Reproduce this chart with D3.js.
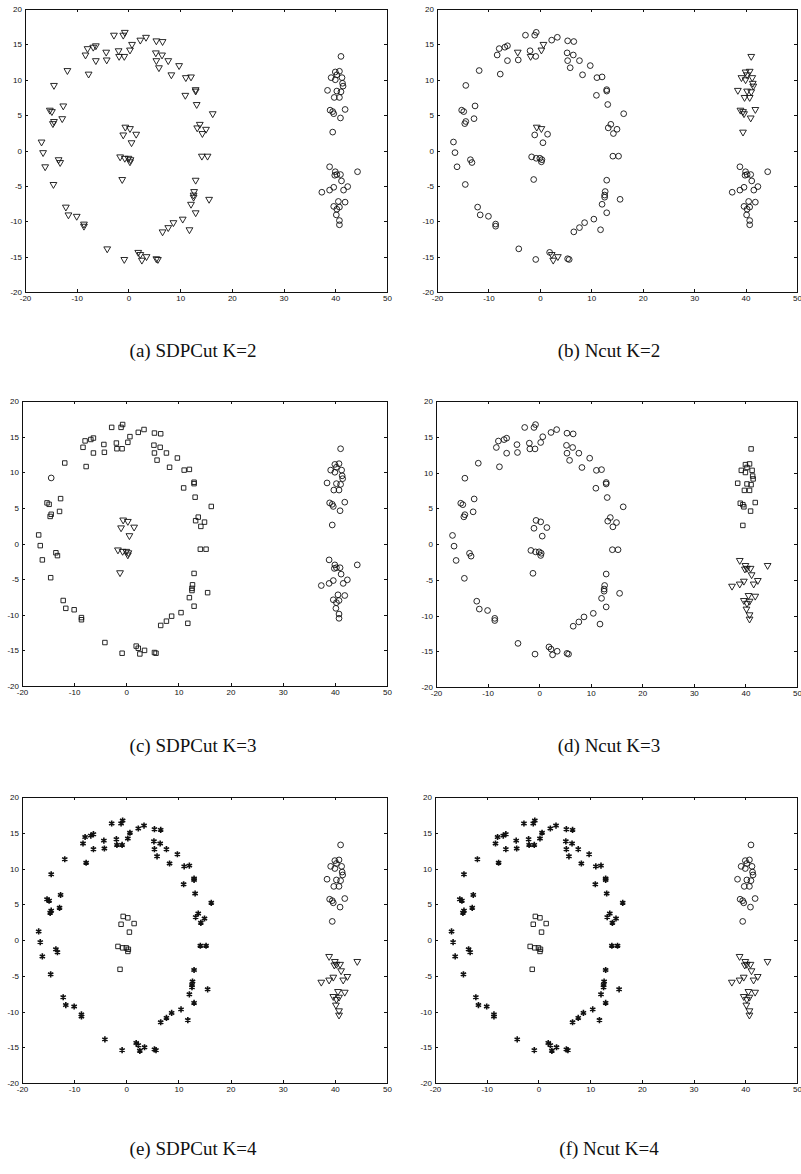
<!DOCTYPE html>
<meta charset="utf-8">
<script src="https://d3js.org/d3.v7.min.js"></script>
<style>
body { margin: 0; background: #fff; }
</style>
<body>
<script>

// outer ring
var ringX = [-16.8,-16.5,-16.1,-14.5,-13.5,-13.2,-12.1,-11.6,-10.0,-8.6,
             -8.6,-4.1,-0.8,1.9,2.3,2.6,3.5,5.4,5.7,6.6,
             7.7,8.7,10.5,11.8,12.1,12.6,12.6,12.7,13.0,13.0,
             15.6,14.2,15.3,13.3,13.8,14.3,15.0,16.3,13.2,13.0,
             13.0,11.1,12.1,11.0,9.8,8.3,7.7,6.5,5.9,5.4,
             5.3,5.4,6.6,3.4,2.3,0.7,0.3,-0.7,-1.0,-2.8,
             -1.9,-1.8,-0.8,-4.3,-4.2,-6.3,-6.8,-7.9,-8.3,-6.3,
             -7.7,-11.8,-14.4,-12.6,-12.8,-15.2,-14.8,-14.4,-14.6];
var ringY = [1.2,-0.3,-2.3,-4.8,-1.3,-1.7,-8.0,-9.1,-9.3,-10.4,
             -10.7,-13.9,-15.4,-14.4,-14.7,-15.5,-15.0,-15.3,-15.4,-11.5,
             -10.9,-10.2,-9.7,-11.2,-7.6,-6.6,-6.3,-5.8,-8.8,-4.2,
             -6.9,-0.8,-0.8,3.2,3.7,2.4,3.0,5.2,6.5,8.6,
             8.4,10.3,10.4,7.8,12.0,10.7,12.7,13.5,11.7,12.7,
             13.8,15.5,15.4,16.0,15.6,15.0,14.2,16.7,16.3,16.3,
             14.1,13.3,13.3,13.9,12.8,14.8,14.6,14.4,13.5,12.7,
             10.8,11.3,9.2,6.3,4.5,5.7,5.5,4.1,3.8];

// small inner group
var innerX = [-0.6,0.3,-1.0,1.5,0.6,-1.6,-0.7,0.0,0.4,0.3,-1.2];
var innerY = [3.3,3.1,2.2,2.3,1.1,-0.9,-1.1,-1.1,-1.3,-1.6,-4.1];

// right upper group
var upperX = [41.1,40.0,40.8,40.3,39.2,40.0,41.3,41.4,41.5,40.3,
              41.1,38.5,39.8,40.8,41.9,39.0,39.5,39.7,41.0,39.5];
var upperY = [13.3,11.1,11.2,10.7,10.3,10.0,10.3,9.5,9.1,8.4,
              8.3,8.5,7.5,7.5,5.8,5.7,5.5,5.2,4.6,2.6];

// right lower group
var lowerX = [38.9,40.0,40.3,39.9,41.0,44.3,41.2,39.7,38.9,37.4,
              42.4,41.6,41.9,40.6,39.7,40.3,40.8,40.2,40.8,40.8];
var lowerY = [-2.3,-3.0,-3.4,-3.5,-3.4,-3.0,-4.3,-5.2,-5.6,-5.9,
              -5.1,-5.6,-7.3,-7.2,-7.9,-8.3,-8.0,-9.1,-9.9,-10.5];

var xTicks = [-20,-10,0,10,20,30,40,50];
var yTicks = [-20,-15,-10,-5,0,5,10,15,20];

var captions = ["(a) SDPCut K=2", "(b) Ncut K=2", "(c) SDPCut K=3",
                "(d) Ncut K=3", "(e) SDPCut K=4", "(f) Ncut K=4"];

// marker per point: v triangle, o circle, s square, * star (ring | inner | upper | lower)
var marksA = ["vvvvvvvvvv vvvvvvvvvv vvvvvvvvvv vvvvvvvvvv vvvvvvvvvv vvvvvvvvvv vvvvvvvvvv vvvvvvvvv",
              "vvvvvvvvvvv", "oooooooooooooooooooo", "oooooooooooooooooooo"];
var marksB = ["oooooooooo oooovvvooo oooooooooo oooooooooo oooooooooo ooooovvooo ovovoooooo ooooooooo",
              "vvooooooooo", "vvvvvvvvvvvvvvvvvvvv", "oooooooooooooooooooo"];
var marksC = ["ssssssssss ssssssssss ssssssssss ssssssssss ssssssssss ssssssssss ssssssssss ssossssss",
              "vvvvvvvvvvv", "oooooooooooooooooooo", "oooooooooooooooooooo"];
var marksD = ["oooooooooo oooooooooo oooooooooo oooooooooo oooooooooo oooooooooo oooooooooo ooooooooo",
              "ooooooooooo", "ssssssssssssssssssss", "vvvvvvvvvvvvvvvvvvvv"];
var marksE = ["********** ********** ********** ********** ********** ********** ********** *********",
              "sssssssssss", "oooooooooooooooooooo", "vvvvvvvvvvvvvvvvvvvv"];
var marksF = ["********** ********** ********** ********** ********** ********** ********** *********",
              "sssssssssss", "oooooooooooooooooooo", "vvvvvvvvvvvvvvvvvvvv"];

var allMarks = [marksA, marksB, marksC, marksD, marksE, marksF];

// layout of the six axes boxes
var boxes = [
  {left: 25,  right: 387, top: 9,   bottom: 292, cx: 193, cy: 357},
  {left: 437, right: 797, top: 9,   bottom: 292, cx: 609, cy: 357},
  {left: 22,  right: 387, top: 401, bottom: 686, cx: 193, cy: 752},
  {left: 436, right: 797, top: 401, bottom: 687, cx: 609, cy: 752},
  {left: 22,  right: 387, top: 797, bottom: 1083, cx: 193, cy: 1155},
  {left: 435, right: 797, top: 797, bottom: 1083, cx: 609, cy: 1155}
];

var pts = [];
[[ringX, ringY], [innerX, innerY], [upperX, upperY], [lowerX, lowerY]].forEach(function(grp, gi) {
  grp[0].forEach(function(v, i) { pts.push({x: v, y: grp[1][i], g: gi, i: i}); });
});

var symbols = {
  "v": d3.symbol().type(d3.symbolTriangle).size(20),
  "o": d3.symbol().type(d3.symbolCircle).size(26),
  "s": d3.symbol().type(d3.symbolSquare).size(20),
  "*": d3.symbol().type(d3.symbolAsterisk).size(26)
};

var svg = d3.select("body").append("svg")
    .attr("width", 801)
    .attr("height", 1174);

boxes.forEach(function(b, k) {
  var x = d3.scaleLinear().domain([-20, 50]).range([b.left, b.right]);
  var y = d3.scaleLinear().domain([-20, 20]).range([b.bottom, b.top]);
  var marks = allMarks[k].map(function(s) { return s.replace(/ /g, ""); });

  var g = svg.append("g");

  var fmt = function(d) { return String(d); };
  function styleAxis(sel) {
    sel.select(".domain").remove();
    sel.selectAll("line").attr("stroke", "#111").attr("shape-rendering", "crispEdges");
    sel.selectAll("text").style("font-family", "Liberation Sans, Arial, sans-serif")
       .style("font-size", "8px").attr("fill", "#111");
  }

  g.append("g").attr("transform", "translate(0," + b.bottom + ")")
    .call(d3.axisBottom(x).tickValues(xTicks).tickSize(-3).tickPadding(3).tickFormat(fmt))
    .call(styleAxis);
  g.append("g").attr("transform", "translate(0," + b.top + ")")
    .call(d3.axisTop(x).tickValues(xTicks).tickSize(-3).tickFormat(""))
    .call(styleAxis);
  g.append("g").attr("transform", "translate(" + b.left + ",0)")
    .call(d3.axisLeft(y).tickValues(yTicks).tickSize(-3).tickPadding(3).tickFormat(fmt))
    .call(styleAxis);
  g.append("g").attr("transform", "translate(" + b.right + ",0)")
    .call(d3.axisRight(y).tickValues(yTicks).tickSize(-3).tickFormat(""))
    .call(styleAxis);

  g.append("rect")
    .attr("x", b.left + 0.5).attr("y", b.top + 0.5)
    .attr("width", b.right - b.left).attr("height", b.bottom - b.top)
    .attr("fill", "none").attr("stroke", "#111").attr("stroke-width", 1)
    .attr("shape-rendering", "crispEdges");

  g.selectAll(".pt")
    .data(pts)
    .enter().append("path")
      .attr("class", "pt")
      .attr("d", function(d) { return symbols[marks[d.g][d.i]](); })
      .attr("transform", function(d) {
        var m = marks[d.g][d.i];
        return "translate(" + x(d.x) + "," + y(d.y) + ")" + (m === "v" ? " rotate(180)" : "");
      })
      .attr("fill", "none")
      .attr("stroke", "#111")
      .attr("stroke-width", function(d) { return marks[d.g][d.i] === "*" ? 1.6 : 0.9; });

  svg.append("text")
    .attr("x", b.cx)
    .attr("y", b.cy)
    .attr("text-anchor", "middle")
    .style("font-family", "Liberation Serif, Times New Roman, serif")
    .style("font-size", "19px")
    .attr("fill", "#111")
    .text(captions[k]);
});
</script>
